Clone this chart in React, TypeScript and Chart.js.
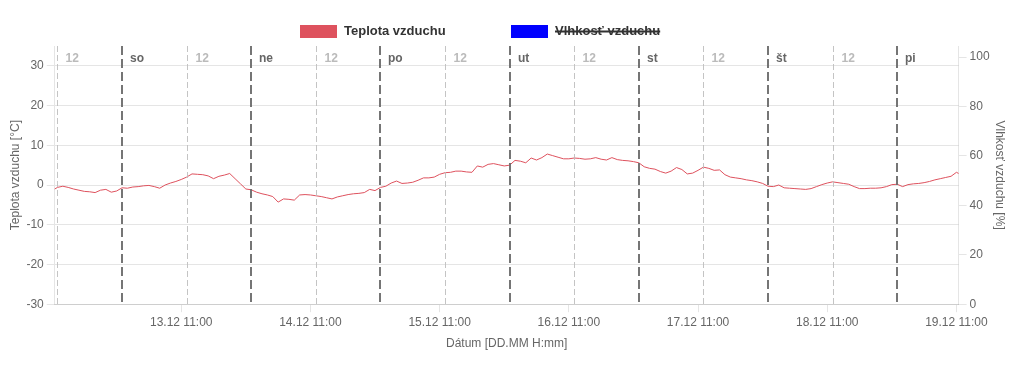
import React, { useEffect, useRef } from 'react';
import { Chart, registerables } from 'chart.js';

Chart.register(...registerables);

// Hours after 12.12. 00:00 of the first temperature sample (hourly samples)
const startHour = 11;
const temperature = [
  -1.4, -0.6, -0.3, -0.6, -1.0, -1.3, -1.6, -1.7, -1.9, -1.3, -1.1, -1.8, -1.5,
  -0.7, -0.8, -0.5, -0.4, -0.2, -0.1, -0.4, -0.8, 0.0, 0.5, 0.9, 1.4, 2.0, 2.8,
  2.7, 2.6, 2.3, 1.6, 2.2, 2.5, 2.9, 1.6, 0.3, -1.0,
  -1.2, -1.8, -2.2, -2.5, -2.9, -4.3, -3.5, -3.6, -3.8, -2.5, -2.4, -2.5, -2.7,
  -2.9, -3.2, -3.5, -3.0, -2.7, -2.4, -2.2, -2.1, -1.9, -1.1, -1.4,
  -0.6, -0.3, 0.5, 1.0, 0.4, 0.5, 0.7, 1.2, 1.8, 1.8, 2.0, 2.7, 3.1, 3.2, 3.5,
  3.5, 3.3, 3.2, 4.8, 4.5, 5.2, 5.4, 5.1, 4.8,
  5.0, 6.2, 6.0, 5.6, 6.8, 6.3, 6.9, 7.8, 7.4, 7.0, 6.6, 6.6, 6.8, 6.7, 6.5,
  6.6, 6.9, 6.5, 6.3, 6.9, 6.4, 6.2, 6.1, 5.9,
  5.6, 4.6, 4.2, 4.0, 3.4, 3.0, 3.5, 4.4, 3.9, 2.8, 3.0, 3.7, 4.5, 4.2, 3.7,
  3.8, 2.6, 2.0, 1.8, 1.6, 1.3, 1.1, 0.8, 0.4,
  -0.3, -0.4, 0.0, -0.7, -0.8, -0.9, -1.0, -1.1, -0.9, -0.4, 0.1, 0.5, 0.8,
  0.6, 0.4, 0.2, -0.4, -0.9, -0.9, -0.8, -0.8, -0.7, -0.4, 0.1,
  0.2, -0.4, 0.1, 0.3, 0.4, 0.6, 0.9, 1.3, 1.6, 1.9, 2.2, 3.2, 2.5,
];
// Humidity series is hidden in the reference (legend item struck through)
const humidity: number[] = [];

const xMinHour = 11.5;
const xMaxHour = 179.4;

const xTickLabels = [
  '13.12 11:00', '14.12 11:00', '15.12 11:00', '16.12 11:00',
  '17.12 11:00', '18.12 11:00', '19.12 11:00',
];
const dayNames = ['so', 'ne', 'po', 'ut', 'st', 'št', 'pi'];
const noonLabel = '12';

const seriesLabels = ['Teplota vzduchu', 'Vlhkosť vzduchu'];
const seriesColors = ['rgb(222, 82, 94)', 'rgb(0, 0, 255)'];

const labelToHour = (s: string) => {
  const [dm, hm] = s.split(' ');
  const day = parseInt(dm.split('.')[0], 10);
  const hh = parseInt(hm.split(':')[0], 10);
  return (day - 12) * 24 + hh;
};
const xTickHours = xTickLabels.map(labelToHour);

const markerPlugin = {
  id: 'dayMarkers',
  afterDatasetsDraw(chart: any) {
    const { ctx, chartArea } = chart;
    const xs = chart.scales.x;
    const { top, bottom } = chartArea;
    ctx.save();
    // noon lines
    for (let k = 0; k < dayNames.length; k++) {
      const h = 12 + 24 * k;
      if (h < xs.min || h > xs.max) continue;
      const px = Math.round(xs.getPixelForValue(h)) + 0.5;
      ctx.beginPath();
      ctx.setLineDash([6, 3]);
      ctx.lineWidth = 1;
      ctx.strokeStyle = 'rgba(190,190,190,0.9)';
      ctx.moveTo(px, top);
      ctx.lineTo(px, bottom);
      ctx.stroke();
      ctx.setLineDash([]);
      ctx.font = "bold 12px Arial, 'Liberation Sans', sans-serif";
      ctx.fillStyle = '#bbbbbb';
      ctx.textAlign = 'left';
      ctx.textBaseline = 'middle';
      ctx.fillText(noonLabel, px + 8, top + 13);
    }
    // midnight lines
    for (let k = 0; k < dayNames.length; k++) {
      const h = 24 + 24 * k;
      if (h < xs.min || h > xs.max) continue;
      const px = Math.round(xs.getPixelForValue(h));
      ctx.beginPath();
      ctx.setLineDash([9, 4]);
      ctx.lineWidth = 2;
      ctx.strokeStyle = 'rgba(110,110,110,0.95)';
      ctx.moveTo(px, top);
      ctx.lineTo(px, bottom);
      ctx.stroke();
      ctx.setLineDash([]);
      ctx.font = "bold 12px Arial, 'Liberation Sans', sans-serif";
      ctx.fillStyle = '#666666';
      ctx.textAlign = 'left';
      ctx.textBaseline = 'middle';
      ctx.fillText(dayNames[k], px + 8, top + 13);
    }
    ctx.restore();
  },
};

const legendPlugin = {
  id: 'customLegend',
  afterDraw(chart: any) {
    const { ctx } = chart;
    ctx.save();
    ctx.font = "bold 13px Arial, 'Liberation Sans', sans-serif";
    ctx.textAlign = 'left';
    ctx.textBaseline = 'middle';
    const starts = [292, 503];
    const boxW = 37;
    const boxH = 13;
    const boxTop = 17;
    const midY = boxTop + boxH / 2;
    chart.data.datasets.forEach((ds: any, i: number) => {
      const x = starts[i];
      ctx.fillStyle = seriesColors[i];
      ctx.fillRect(x, boxTop, boxW, boxH);
      const tx = x + boxW + 7;
      ctx.fillStyle = '#333333';
      ctx.fillText(ds.label, tx, midY);
      const hidden = !chart.isDatasetVisible(i);
      if (hidden) {
        const w = ctx.measureText(ds.label).width;
        ctx.strokeStyle = '#333333';
        ctx.lineWidth = 2;
        ctx.beginPath();
        ctx.moveTo(tx, midY);
        ctx.lineTo(tx + w, midY);
        ctx.stroke();
      }
    });
    ctx.restore();
  },
};

export default function App() {
  const canvasRef = useRef<HTMLCanvasElement | null>(null);

  useEffect(() => {
    if (!canvasRef.current) return;
    Chart.defaults.font.family = "Arial, 'Liberation Sans', Helvetica, sans-serif";
    Chart.defaults.color = '#666';
    const chart = new Chart(canvasRef.current, {
      type: 'line',
      data: {
        datasets: [
          {
            label: seriesLabels[0],
            data: temperature.map((v, i) => ({ x: startHour + i, y: v })),
            borderColor: seriesColors[0],
            backgroundColor: seriesColors[0],
            borderWidth: 1,
            pointRadius: 0,
            tension: 0,
            yAxisID: 'y',
          },
          {
            label: seriesLabels[1],
            data: humidity.map((v, i) => ({ x: startHour + i, y: v })),
            borderColor: seriesColors[1],
            backgroundColor: seriesColors[1],
            borderWidth: 1,
            pointRadius: 0,
            hidden: true,
            yAxisID: 'y1',
          },
        ],
      },
      options: {
        responsive: true,
        maintainAspectRatio: false,
        animation: false,
        layout: { padding: { top: 38 } },
        plugins: {
          legend: { display: false },
          tooltip: { enabled: false },
        },
        scales: {
          x: {
            type: 'linear',
            min: xMinHour,
            max: xMaxHour,
            afterBuildTicks: (scale: any) => {
              scale.ticks = xTickHours.map((v) => ({ value: v }));
            },
            ticks: {
              autoSkip: false,
              maxRotation: 0,
              font: { size: 12 },
              callback: (_v: any, index: number) => xTickLabels[index],
            },
            grid: { drawOnChartArea: false, drawTicks: true },
            title: {
              display: true,
              text: 'Dátum [DD.MM H:mm]',
              font: { size: 12 },
            },
          },
          y: {
            type: 'linear',
            position: 'left',
            min: -30,
            max: 35,
            ticks: { stepSize: 10, includeBounds: false, font: { size: 12 } },
            title: {
              display: true,
              text: 'Teplota vzduchu [°C]',
              font: { size: 12 },
              padding: { top: 0, bottom: 1 },
            },
          },
          y1: {
            type: 'linear',
            position: 'right',
            min: 0,
            max: 104.5,
            ticks: { stepSize: 20, includeBounds: false, font: { size: 12 } },
            grid: { drawOnChartArea: false },
            title: {
              display: true,
              text: 'Vlhkosť vzduchu [%]',
              font: { size: 12 },
              padding: { top: 9, bottom: 0 },
            },
          },
        },
      },
      plugins: [markerPlugin, legendPlugin],
    });
    return () => chart.destroy();
  }, []);

  return (
    <div style={{ position: 'relative', width: '100%', height: '347px' }}>
      <canvas ref={canvasRef} />
    </div>
  );
}
